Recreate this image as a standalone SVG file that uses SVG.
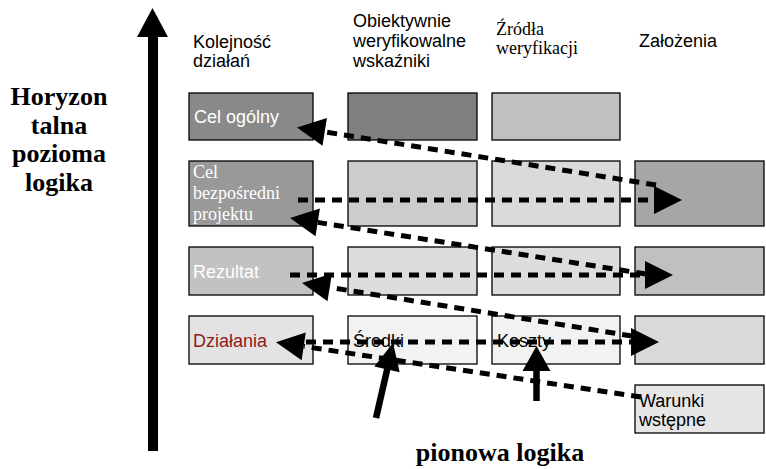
<svg xmlns="http://www.w3.org/2000/svg" width="766" height="469" viewBox="0 0 766 469">
  <style>
    .box { stroke: #000; stroke-width: 1.3; }
    .sans { font-family: "Liberation Sans", Arial, sans-serif; font-size: 18px; }
    .serif { font-family: "Liberation Serif", "Times New Roman", serif; font-size: 18px; }
    .big { font-family: "Liberation Serif", "Times New Roman", serif; font-size: 26px; font-weight: bold; text-anchor: middle; }
    .white { fill: #fff; }
    .dash { fill: none; stroke: #000; stroke-width: 5; stroke-dasharray: 10 7; }
    .solid { fill: none; stroke: #000; stroke-width: 6.5; }
  </style>
  <defs>
    <marker id="head" markerUnits="userSpaceOnUse" markerWidth="28" markerHeight="28" refX="0" refY="14" orient="auto" overflow="visible">
      <path d="M0,0 L28,14 L0,28 Z" fill="#000"/>
    </marker>
  </defs>

  <rect width="766" height="469" fill="#fff"/>

  <!-- vertical axis arrow -->
  <g id="axis">
    <rect x="148" y="36" width="10" height="415" fill="#000"/>
    <polygon points="152.5,8 137,37 168,37" fill="#000"/>
  </g>

  <!-- side and bottom titles -->
  <g id="title-horizontal">
    <text class="big" x="59" y="105">Horyzon</text>
    <text class="big" x="59" y="134">talna</text>
    <text class="big" x="59" y="162">pozioma</text>
    <text class="big" x="59" y="191">logika</text>
  </g>
  <g id="title-vertical">
    <text class="big" x="500" y="461">pionowa logika</text>
  </g>

  <!-- column headers -->
  <g id="header-kolejnosc">
    <text class="sans" x="193" y="48">Kolejność</text>
    <text class="sans" x="193" y="67">działań</text>
  </g>
  <g id="header-wskazniki">
    <text class="sans" x="353" y="27">Obiektywnie</text>
    <text class="sans" x="353" y="47">weryfikowalne</text>
    <text class="sans" x="353" y="67">wskaźniki</text>
  </g>
  <g id="header-zrodla">
    <text class="serif" x="496" y="35">Źródła</text>
    <text class="serif" x="496" y="54">weryfikacji</text>
  </g>
  <g id="header-zalozenia">
    <text class="sans" x="639" y="47">Założenia</text>
  </g>

  <!-- row 1 -->
  <g id="cel-ogolny">
    <rect class="box" x="189" y="93" width="124" height="47" fill="#898989"/>
    <text class="sans white" x="194" y="123">Cel ogólny</text>
  </g>
  <g id="r1-wskazniki"><rect class="box" x="348" y="93" width="129" height="47" fill="#808080"/></g>
  <g id="r1-zrodla"><rect class="box" x="492" y="93" width="128" height="47" fill="#c0c0c0"/></g>

  <!-- row 2 -->
  <g id="cel-bezposredni">
    <rect class="box" x="189" y="161" width="124" height="65" fill="#999999"/>
    <text class="serif white" x="193" y="178">Cel</text>
    <text class="serif white" x="193" y="199">bezpośredni</text>
    <text class="serif white" x="193" y="220">projektu</text>
  </g>
  <g id="r2-wskazniki"><rect class="box" x="348" y="161" width="129" height="65" fill="#cccccc"/></g>
  <g id="r2-zrodla"><rect class="box" x="492" y="161" width="128" height="65" fill="#dadada"/></g>
  <g id="r2-zalozenia"><rect class="box" x="635" y="161" width="129" height="65" fill="#a6a6a6"/></g>

  <!-- row 3 -->
  <g id="rezultat">
    <rect class="box" x="189" y="247" width="124" height="48" fill="#c2c2c2"/>
    <text class="sans white" x="193" y="278">Rezultat</text>
  </g>
  <g id="r3-wskazniki"><rect class="box" x="348" y="247" width="129" height="48" fill="#dddddd"/></g>
  <g id="r3-zrodla"><rect class="box" x="492" y="247" width="128" height="48" fill="#dddddd"/></g>
  <g id="r3-zalozenia"><rect class="box" x="635" y="247" width="129" height="48" fill="#c0c0c0"/></g>

  <!-- row 4 -->
  <g id="dzialania">
    <rect class="box" x="189" y="316" width="124" height="48" fill="#e3e3e3"/>
    <text class="sans" x="193" y="347" fill="#8f1b1b">Działania</text>
  </g>
  <g id="srodki">
    <rect class="box" x="348" y="316" width="129" height="48" fill="#f2f2f2"/>
    <text class="sans" x="353" y="347">Środki</text>
  </g>
  <g id="koszty">
    <rect class="box" x="492" y="316" width="128" height="48" fill="#f2f2f2"/>
    <text class="sans" x="497" y="347">Koszty</text>
  </g>
  <g id="r4-zalozenia"><rect class="box" x="635" y="316" width="129" height="48" fill="#d9d9d9"/></g>

  <g id="warunki">
    <rect class="box" x="635" y="385" width="129" height="48" fill="#e6e6e6"/>
    <text class="sans" x="639" y="407">Warunki</text>
    <text class="sans" x="639" y="426">wstępne</text>
  </g>

  <!-- connectors -->
  <g id="connectors">
    <!-- horizontal logic, left to right -->
    <line class="dash" x1="298" y1="200" x2="654" y2="200" marker-end="url(#head)"/>
    <line class="dash" x1="290" y1="275" x2="645" y2="275" marker-end="url(#head)"/>
    <line class="dash" x1="306" y1="342" x2="631" y2="342" marker-end="url(#head)"/>
    <!-- diagonal logic, assumptions back to the level above -->
    <line class="dash" x1="656" y1="185" x2="324.7" y2="131.9" marker-end="url(#head)"/>
    <line class="dash" x1="646" y1="274" x2="317.7" y2="222.4" marker-end="url(#head)"/>
    <line class="dash" x1="632" y1="336" x2="329.7" y2="287.4" marker-end="url(#head)"/>
    <line class="dash" x1="641" y1="397" x2="303.7" y2="346.4" marker-end="url(#head)"/>
    <!-- vertical logic arrows -->
    <line class="solid" x1="376" y1="418" x2="387.5" y2="368"/>
    <polygon points="393,343 374.3,366.4 399.7,372.2" fill="#000"/>
    <line class="solid" x1="536.5" y1="401" x2="536.5" y2="369"/>
    <polygon points="536.5,346 522.5,371 550.5,371" fill="#000"/>
  </g>
</svg>
